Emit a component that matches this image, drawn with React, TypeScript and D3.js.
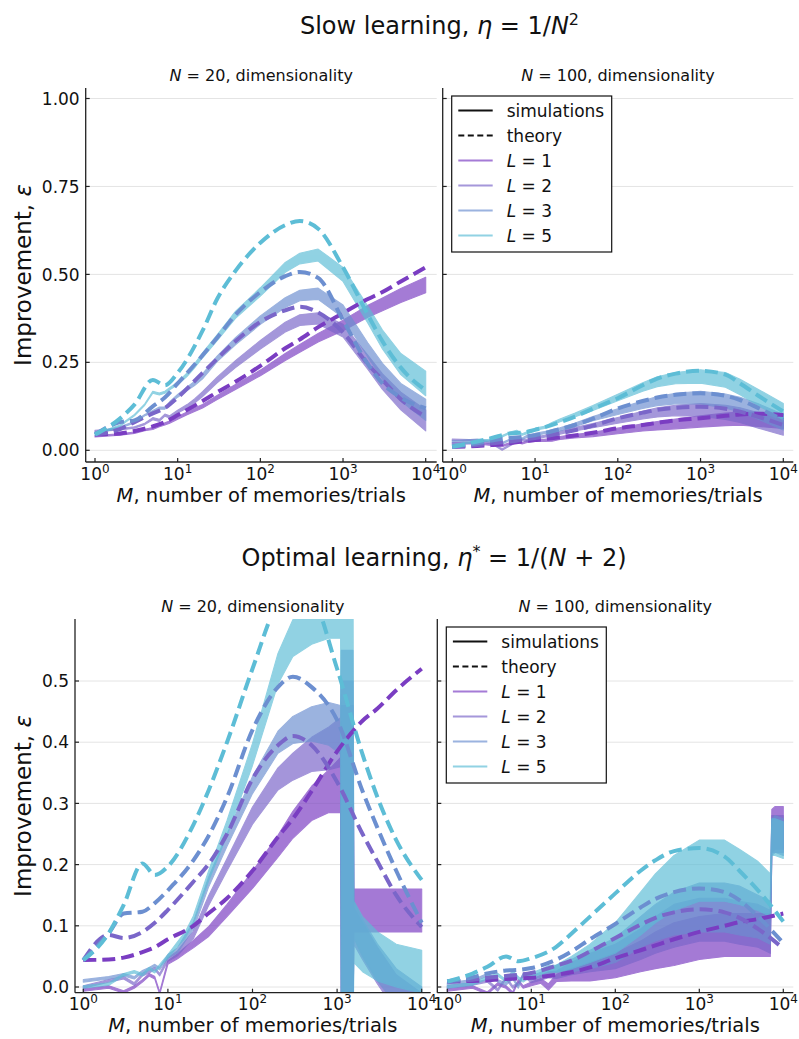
import React from "react";
import * as d3 from "d3";

const FONT = "DejaVu Sans, Verdana, sans-serif";

// ---------- shared ----------
const L_VALUES = ["1", "2", "3", "5"];
const THEORY_COLORS = ["#7a3dc2", "#7a66c9", "#6c8fd0", "#5dbdd6"];
const X_TICKS = [1, 10, 100, 1000, 10000];
const X_TICK_EXP = ["0", "1", "2", "3", "4"];
const Y_TICKS_SLOW = [0, 0.25, 0.5, 0.75, 1.0];
const Y_TICK_LABELS_SLOW = ["0.00", "0.25", "0.50", "0.75", "1.00"];
const Y_TICKS_OPT = [0, 0.1, 0.2, 0.3, 0.4, 0.5];
const Y_TICK_LABELS_OPT = ["0.0", "0.1", "0.2", "0.3", "0.4", "0.5"];

// ---------- theory ----------
const M_THEORY = [1, 2, 3, 5, 7, 10, 20, 30, 50, 100, 200, 300, 500, 1000, 2000, 3000, 5000, 10000];

// Slow learning, N = 20
const TH_SLOW20_L1 = [0.045, 0.048, 0.055, 0.068, 0.08, 0.10, 0.14, 0.165, 0.195, 0.24, 0.29, 0.315, 0.35, 0.39, 0.43, 0.45, 0.48, 0.52];
const TH_SLOW20_L2 = [0.045, 0.06, 0.08, 0.105, 0.12, 0.15, 0.22, 0.26, 0.31, 0.365, 0.398, 0.408, 0.392, 0.335, 0.245, 0.2, 0.145, 0.095];
const TH_SLOW20_L3 = [0.045, 0.08, 0.085, 0.125, 0.15, 0.19, 0.27, 0.32, 0.385, 0.45, 0.495, 0.507, 0.49, 0.37, 0.245, 0.19, 0.15, 0.119];
const TH_SLOW20_L5 = [0.045, 0.09, 0.13, 0.2, 0.185, 0.22, 0.34, 0.43, 0.51, 0.59, 0.64, 0.652, 0.63, 0.52, 0.385, 0.31, 0.235, 0.17];

// Slow learning, N = 100
const TH_SLOW100_L1 = [0.01, 0.012, 0.015, 0.02, 0.025, 0.029, 0.037, 0.042, 0.05, 0.0625, 0.072, 0.078, 0.085, 0.091, 0.098, 0.102, 0.104, 0.10];
const TH_SLOW100_L2 = [0.01, 0.015, 0.02, 0.025, 0.03, 0.035, 0.048, 0.057, 0.07, 0.091, 0.107, 0.115, 0.121, 0.124, 0.118, 0.11, 0.095, 0.072];
const TH_SLOW100_L3 = [0.01, 0.02, 0.028, 0.035, 0.038, 0.043, 0.06, 0.072, 0.09, 0.119, 0.14, 0.15, 0.158, 0.162, 0.155, 0.143, 0.12, 0.086];
const TH_SLOW100_L5 = [0.01, 0.025, 0.035, 0.048, 0.05, 0.058, 0.08, 0.095, 0.118, 0.148, 0.185, 0.204, 0.218, 0.226, 0.215, 0.19, 0.155, 0.11];

// Optimal learning, N = 20
const TH_OPT20_L1 = [0.044, 0.045, 0.048, 0.057, 0.065, 0.078, 0.10, 0.12, 0.145, 0.19, 0.245, 0.275, 0.32, 0.385, 0.435, 0.455, 0.485, 0.52];
const TH_OPT20_L2 = [0.044, 0.085, 0.08, 0.09, 0.105, 0.126, 0.172, 0.20, 0.25, 0.34, 0.395, 0.41, 0.395, 0.335, 0.25, 0.205, 0.15, 0.098];
const TH_OPT20_L3 = [0.044, 0.088, 0.12, 0.123, 0.137, 0.158, 0.207, 0.246, 0.31, 0.42, 0.49, 0.507, 0.49, 0.436, 0.32, 0.26, 0.19, 0.105];
const TH_OPT20_L5 = [0.044, 0.088, 0.134, 0.202, 0.183, 0.197, 0.265, 0.32, 0.40, 0.52, 0.63, 0.66, 0.64, 0.52, 0.38, 0.31, 0.24, 0.175];

// Optimal learning, N = 100
const TH_OPT100_L1 = [0.009, 0.01, 0.011, 0.013, 0.014, 0.015, 0.02, 0.024, 0.032, 0.047, 0.06, 0.068, 0.078, 0.09, 0.10, 0.106, 0.111, 0.12];
const TH_OPT100_L2 = [0.009, 0.012, 0.015, 0.018, 0.02, 0.023, 0.035, 0.043, 0.058, 0.08, 0.102, 0.113, 0.122, 0.127, 0.122, 0.113, 0.095, 0.063];
const TH_OPT100_L3 = [0.009, 0.016, 0.022, 0.027, 0.028, 0.031, 0.045, 0.058, 0.078, 0.103, 0.13, 0.144, 0.155, 0.161, 0.155, 0.142, 0.115, 0.072];
const TH_OPT100_L5 = [0.009, 0.022, 0.033, 0.05, 0.042, 0.047, 0.066, 0.087, 0.115, 0.153, 0.19, 0.207, 0.222, 0.227, 0.213, 0.19, 0.158, 0.107];

// ---------- simulations (mean and half-spread of the noisy band) ----------
const M_SIM_SLOW = [1, 2, 3, 4, 5, 6, 7, 8, 10, 13, 16, 20, 30, 50, 100, 200, 300, 500, 1000, 2000, 3000, 5000, 10000];

const SIM_SLOW20_L1 = [0.04, 0.045, 0.05, 0.058, 0.062, 0.07, 0.075, 0.08, 0.092, 0.105, 0.115, 0.125, 0.15, 0.18, 0.22, 0.265, 0.29, 0.32, 0.355, 0.395, 0.415, 0.44, 0.47];
const SPR_SLOW20_L1 = [0.002, 0.002, 0.002, 0.002, 0.003, 0.003, 0.003, 0.003, 0.004, 0.004, 0.005, 0.005, 0.006, 0.007, 0.008, 0.01, 0.011, 0.012, 0.015, 0.017, 0.018, 0.02, 0.022];
const SIM_SLOW20_L2 = [0.055, 0.06, 0.065, 0.075, 0.09, 0.085, 0.1, 0.095, 0.11, 0.125, 0.14, 0.16, 0.2, 0.245, 0.3, 0.35, 0.37, 0.375, 0.34, 0.25, 0.195, 0.14, 0.085];
const SPR_SLOW20_L2 = [0.002, 0.002, 0.002, 0.002, 0.003, 0.003, 0.003, 0.003, 0.004, 0.005, 0.006, 0.007, 0.008, 0.01, 0.012, 0.014, 0.015, 0.016, 0.018, 0.02, 0.022, 0.025, 0.03];
const SIM_SLOW20_L3 = [0.05, 0.065, 0.08, 0.1, 0.11, 0.12, 0.12, 0.135, 0.155, 0.175, 0.19, 0.21, 0.26, 0.31, 0.37, 0.42, 0.44, 0.445, 0.395, 0.285, 0.225, 0.165, 0.115];
const SPR_SLOW20_L3 = [0.002, 0.002, 0.002, 0.002, 0.003, 0.003, 0.003, 0.003, 0.004, 0.005, 0.006, 0.007, 0.008, 0.01, 0.012, 0.014, 0.015, 0.016, 0.018, 0.02, 0.022, 0.025, 0.03];
const SIM_SLOW20_L5 = [0.045, 0.07, 0.1, 0.13, 0.165, 0.16, 0.165, 0.175, 0.19, 0.215, 0.24, 0.27, 0.32, 0.385, 0.45, 0.52, 0.545, 0.555, 0.5, 0.385, 0.315, 0.245, 0.19];
const SPR_SLOW20_L5 = [0.002, 0.002, 0.002, 0.002, 0.003, 0.003, 0.003, 0.003, 0.004, 0.005, 0.006, 0.007, 0.008, 0.01, 0.012, 0.014, 0.015, 0.017, 0.02, 0.024, 0.027, 0.03, 0.035];

const SIM_SLOW100_L1 = [0.02, 0.02, 0.016, 0.012, 0.02, 0.024, 0.02, 0.025, 0.028, 0.028, 0.03, 0.035, 0.04, 0.045, 0.055, 0.065, 0.07, 0.075, 0.082, 0.088, 0.09, 0.088, 0.082];
const SPR_SLOW100_L1 = [0.002, 0.002, 0.002, 0.002, 0.002, 0.002, 0.002, 0.003, 0.003, 0.003, 0.004, 0.004, 0.005, 0.006, 0.008, 0.01, 0.012, 0.014, 0.016, 0.018, 0.019, 0.02, 0.02];
const SIM_SLOW100_L2 = [0.03, 0.028, 0.02, 0.002, 0.015, 0.025, 0.03, 0.028, 0.035, 0.04, 0.045, 0.05, 0.06, 0.07, 0.085, 0.1, 0.108, 0.113, 0.115, 0.108, 0.1, 0.085, 0.065];
const SPR_SLOW100_L2 = [0.002, 0.002, 0.002, 0.002, 0.002, 0.002, 0.002, 0.003, 0.003, 0.003, 0.004, 0.004, 0.005, 0.006, 0.008, 0.011, 0.013, 0.015, 0.018, 0.02, 0.021, 0.022, 0.022];
const SIM_SLOW100_L3 = [0.025, 0.03, 0.025, 0.02, 0.03, 0.035, 0.033, 0.04, 0.045, 0.05, 0.055, 0.06, 0.072, 0.09, 0.11, 0.13, 0.14, 0.147, 0.15, 0.14, 0.13, 0.11, 0.08];
const SPR_SLOW100_L3 = [0.002, 0.002, 0.002, 0.002, 0.002, 0.002, 0.002, 0.003, 0.003, 0.003, 0.004, 0.004, 0.005, 0.006, 0.008, 0.011, 0.013, 0.015, 0.018, 0.02, 0.021, 0.022, 0.022];
const SIM_SLOW100_L5 = [0.015, 0.025, 0.03, 0.04, 0.05, 0.055, 0.045, 0.05, 0.06, 0.065, 0.075, 0.085, 0.1, 0.12, 0.15, 0.18, 0.195, 0.205, 0.21, 0.2, 0.18, 0.15, 0.11];
const SPR_SLOW100_L5 = [0.002, 0.002, 0.002, 0.002, 0.002, 0.002, 0.002, 0.003, 0.003, 0.003, 0.004, 0.004, 0.005, 0.007, 0.009, 0.012, 0.014, 0.016, 0.019, 0.021, 0.022, 0.023, 0.023];

const M_SIM_OPT20 = [1, 2, 3, 4, 5, 6, 7, 8, 10, 13, 16, 20, 30, 50, 100, 200, 300, 500, 800, 1100, 1120, 1540, 1580, 2000, 3000, 5000, 10000];

const SIM_OPT20_L1 = [-0.005, 0.0, -0.008, 0.0, 0.01, 0.02, 0.015, -0.01, 0.04, 0.05, 0.06, 0.07, 0.09, 0.125, 0.175, 0.23, 0.265, 0.3, 0.32, 0.33, 0.2, 0.2, 0.125, 0.125, 0.125, 0.125, 0.125];
const SPR_OPT20_L1 = [0.002, 0.002, 0.002, 0.002, 0.002, 0.002, 0.002, 0.002, 0.003, 0.004, 0.005, 0.006, 0.008, 0.01, 0.014, 0.018, 0.022, 0.028, 0.035, 0.045, 0.26, 0.26, 0.035, 0.035, 0.035, 0.035, 0.035];
const SIM_OPT20_L2 = [0.0, 0.01, 0.015, 0.005, 0.02, 0.025, 0.03, 0.02, 0.045, 0.055, 0.07, 0.085, 0.14, 0.2, 0.28, 0.34, 0.36, 0.38, 0.39, 0.4, 0.22, 0.22, 0.1, 0.075, 0.035, -0.01, -0.04];
const SPR_OPT20_L2 = [0.002, 0.002, 0.002, 0.002, 0.002, 0.002, 0.002, 0.002, 0.003, 0.004, 0.005, 0.006, 0.008, 0.01, 0.014, 0.018, 0.022, 0.028, 0.035, 0.04, 0.28, 0.28, 0.03, 0.03, 0.03, 0.03, 0.03];
const SIM_OPT20_L3 = [0.01, 0.015, 0.02, 0.015, 0.025, 0.03, 0.035, 0.03, 0.05, 0.06, 0.08, 0.1, 0.17, 0.24, 0.33, 0.4, 0.42, 0.43, 0.43, 0.42, 0.25, 0.25, 0.11, 0.08, 0.04, 0.0, -0.03];
const SPR_OPT20_L3 = [0.002, 0.002, 0.002, 0.002, 0.002, 0.002, 0.002, 0.002, 0.003, 0.004, 0.005, 0.006, 0.008, 0.01, 0.014, 0.018, 0.022, 0.028, 0.035, 0.04, 0.3, 0.3, 0.03, 0.03, 0.03, 0.03, 0.03];
const SIM_OPT20_L5 = [0.0, 0.005, 0.02, 0.025, 0.02, 0.03, 0.025, 0.035, 0.05, 0.07, 0.085, 0.11, 0.18, 0.26, 0.38, 0.52, 0.57, 0.6, 0.62, 0.62, 0.3, 0.3, 0.09, 0.07, 0.05, 0.035, 0.025];
const SPR_OPT20_L5 = [0.002, 0.002, 0.002, 0.002, 0.002, 0.002, 0.002, 0.002, 0.003, 0.004, 0.005, 0.006, 0.008, 0.012, 0.018, 0.025, 0.03, 0.04, 0.05, 0.05, 0.4, 0.4, 0.05, 0.045, 0.04, 0.035, 0.035];

const M_SIM_OPT100 = [1, 2, 3, 4, 5, 6, 7, 8, 10, 13, 16, 20, 30, 50, 100, 200, 300, 500, 1000, 2000, 3000, 5000, 7000, 7300, 8000, 10000];

const SIM_OPT100_L1 = [-0.005, 0.0, -0.01, 0.005, 0.0, -0.01, 0.01, 0.0, 0.005, 0.01, 0.0, 0.015, 0.02, 0.025, 0.035, 0.05, 0.06, 0.07, 0.08, 0.085, 0.085, 0.085, 0.085, 0.255, 0.26, 0.26];
const SPR_OPT100_L1 = [0.002, 0.002, 0.002, 0.002, 0.002, 0.002, 0.002, 0.002, 0.003, 0.004, 0.005, 0.006, 0.01, 0.015, 0.02, 0.025, 0.03, 0.035, 0.035, 0.035, 0.035, 0.035, 0.035, 0.035, 0.035, 0.035];
const SIM_OPT100_L2 = [0.0, 0.005, 0.01, -0.005, 0.015, 0.0, 0.005, 0.02, 0.01, 0.015, 0.02, 0.02, 0.03, 0.04, 0.05, 0.07, 0.085, 0.1, 0.11, 0.11, 0.105, 0.1, 0.09, 0.25, 0.25, 0.25];
const SPR_OPT100_L2 = [0.002, 0.002, 0.002, 0.002, 0.002, 0.002, 0.002, 0.002, 0.003, 0.004, 0.005, 0.006, 0.01, 0.015, 0.02, 0.025, 0.03, 0.035, 0.035, 0.035, 0.035, 0.035, 0.035, 0.03, 0.03, 0.03];
const SIM_OPT100_L3 = [0.005, 0.01, 0.02, 0.01, 0.005, 0.015, 0.0, 0.02, 0.015, 0.02, 0.025, 0.03, 0.035, 0.045, 0.06, 0.09, 0.105, 0.12, 0.13, 0.13, 0.125, 0.115, 0.105, 0.245, 0.25, 0.245];
const SPR_OPT100_L3 = [0.002, 0.002, 0.002, 0.002, 0.002, 0.002, 0.002, 0.002, 0.003, 0.004, 0.005, 0.006, 0.01, 0.015, 0.02, 0.025, 0.03, 0.035, 0.04, 0.04, 0.04, 0.035, 0.035, 0.03, 0.03, 0.03];
const SIM_OPT100_L5 = [0.0, 0.005, 0.015, 0.02, 0.01, 0.025, 0.015, 0.01, 0.02, 0.025, 0.03, 0.03, 0.04, 0.055, 0.08, 0.12, 0.145, 0.17, 0.19, 0.19, 0.18, 0.165, 0.15, 0.245, 0.245, 0.24];
const SPR_OPT100_L5 = [0.002, 0.002, 0.002, 0.002, 0.002, 0.002, 0.002, 0.002, 0.003, 0.004, 0.005, 0.006, 0.01, 0.015, 0.025, 0.035, 0.04, 0.045, 0.05, 0.05, 0.045, 0.04, 0.035, 0.03, 0.03, 0.03];

// ---------- layout ----------
type PanelSpec = {
  key: string;
  n: string;
  frame: [number, number, number, number]; // left, top, right, bottom
  xPix: [number, number]; // pixel of M = 1 and M = 1e4
  yDom: [number, number];
  yPix: [number, number];
  yTicks: number[];
  yTickLabels: string[];
  showYLabels: boolean;
  theory: number[][];
  simM: number[];
  sim: number[][];
  spr: number[][];
  legend: boolean;
  tickBaseline: number;
  xLabelBaseline: number;
};

const PANELS: PanelSpec[] = [
  {
    key: "slow20", n: "20", frame: [85.7, 88, 436.7, 462], xPix: [95, 425.7],
    yDom: [0, 1], yPix: [450.3, 98.5], yTicks: Y_TICKS_SLOW, yTickLabels: Y_TICK_LABELS_SLOW, showYLabels: true,
    theory: [TH_SLOW20_L1, TH_SLOW20_L2, TH_SLOW20_L3, TH_SLOW20_L5],
    simM: M_SIM_SLOW, sim: [SIM_SLOW20_L1, SIM_SLOW20_L2, SIM_SLOW20_L3, SIM_SLOW20_L5],
    spr: [SPR_SLOW20_L1, SPR_SLOW20_L2, SPR_SLOW20_L3, SPR_SLOW20_L5],
    legend: false, tickBaseline: 480, xLabelBaseline: 502,
  },
  {
    key: "slow100", n: "100", frame: [442.7, 88, 793.3, 462], xPix: [452.3, 783.3],
    yDom: [0, 1], yPix: [450.3, 98.5], yTicks: Y_TICKS_SLOW, yTickLabels: Y_TICK_LABELS_SLOW, showYLabels: false,
    theory: [TH_SLOW100_L1, TH_SLOW100_L2, TH_SLOW100_L3, TH_SLOW100_L5],
    simM: M_SIM_SLOW, sim: [SIM_SLOW100_L1, SIM_SLOW100_L2, SIM_SLOW100_L3, SIM_SLOW100_L5],
    spr: [SPR_SLOW100_L1, SPR_SLOW100_L2, SPR_SLOW100_L3, SPR_SLOW100_L5],
    legend: true, tickBaseline: 480, xLabelBaseline: 502,
  },
  {
    key: "opt20", n: "20", frame: [75, 619, 430.7, 992.7], xPix: [83.3, 421.7],
    yDom: [0, 0.5], yPix: [987, 681], yTicks: Y_TICKS_OPT, yTickLabels: Y_TICK_LABELS_OPT, showYLabels: true,
    theory: [TH_OPT20_L1, TH_OPT20_L2, TH_OPT20_L3, TH_OPT20_L5],
    simM: M_SIM_OPT20, sim: [SIM_OPT20_L1, SIM_OPT20_L2, SIM_OPT20_L3, SIM_OPT20_L5],
    spr: [SPR_OPT20_L1, SPR_OPT20_L2, SPR_OPT20_L3, SPR_OPT20_L5],
    legend: false, tickBaseline: 1010, xLabelBaseline: 1032,
  },
  {
    key: "opt100", n: "100", frame: [437.3, 619, 793.3, 992.7], xPix: [447.3, 783.3],
    yDom: [0, 0.5], yPix: [987, 681], yTicks: Y_TICKS_OPT, yTickLabels: Y_TICK_LABELS_OPT, showYLabels: false,
    theory: [TH_OPT100_L1, TH_OPT100_L2, TH_OPT100_L3, TH_OPT100_L5],
    simM: M_SIM_OPT100, sim: [SIM_OPT100_L1, SIM_OPT100_L2, SIM_OPT100_L3, SIM_OPT100_L5],
    spr: [SPR_OPT100_L1, SPR_OPT100_L2, SPR_OPT100_L3, SPR_OPT100_L5],
    legend: true, tickBaseline: 1010, xLabelBaseline: 1032,
  },
];

const Panel: React.FC<{ p: PanelSpec }> = ({ p }) => {
  const [fl, ft, fr, fb] = p.frame;
  const x = d3.scaleLog().domain([1, 10000]).range(p.xPix);
  const y = d3.scaleLinear().domain(p.yDom).range(p.yPix);
  const clipId = `clip-${p.key}`;

  const theoryLine = d3
    .line<number>()
    .x((_, i) => x(M_THEORY[i]))
    .y((d) => y(d))
    .curve(d3.curveMonotoneX);

  const simArea = (mid: number[], spr: number[]) =>
    d3
      .area<number>()
      .x((_, i) => x(p.simM[i]))
      .y0((d, i) => y(d - spr[i]))
      .y1((d, i) => y(d + spr[i]))
      .curve(d3.curveLinear)(mid) || "";

  const cx = (fl + fr) / 2;

  return (
    <g>
      <defs>
        <clipPath id={clipId}>
          <rect x={fl} y={ft} width={fr - fl} height={fb - ft} />
        </clipPath>
      </defs>
      {/* grid */}
      {p.yTicks.map((t) => (
        <line key={`g${t}`} x1={fl} x2={fr} y1={y(t)} y2={y(t)} stroke="#e4e4e4" strokeWidth={1} />
      ))}
      {/* data */}
      <g clipPath={`url(#${clipId})`}>
        {p.sim.map((mid, k) => (
          <g key={`s${k}`} opacity={0.68}>
            <path
              d={simArea(mid, p.spr[k])}
              fill={THEORY_COLORS[k]}
              stroke={THEORY_COLORS[k]}
              strokeWidth={1.1}
              strokeLinejoin="round"
            />
          </g>
        ))}
        {p.theory.map((vals, k) => (
          <path
            key={`t${k}`}
            d={theoryLine(vals) || ""}
            fill="none"
            stroke={THEORY_COLORS[k]}
            strokeWidth={4}
            strokeDasharray="13,6"
          />
        ))}
      </g>
      {/* axes */}
      <line x1={fl} x2={fl} y1={ft} y2={fb} stroke="#222" strokeWidth={1.3} />
      <line x1={fl} x2={fr} y1={fb} y2={fb} stroke="#222" strokeWidth={1.3} />
      {p.yTicks.map((t, i) => (
        <g key={`yt${t}`}>
          <line x1={fl} x2={fl + 4} y1={y(t)} y2={y(t)} stroke="#222" strokeWidth={1.2} />
          {p.showYLabels && (
            <text x={fl - 6} y={y(t)} dy="0.36em" textAnchor="end" fontSize={17} fontFamily={FONT} fill="#111">
              {p.yTickLabels[i]}
            </text>
          )}
        </g>
      ))}
      {X_TICKS.map((t, i) => (
        <g key={`xt${t}`}>
          <line x1={x(t)} x2={x(t)} y1={fb} y2={fb - 4} stroke="#222" strokeWidth={1.2} />
          <text x={x(t)} y={p.tickBaseline} textAnchor="middle" fontSize={17} fontFamily={FONT} fill="#111">
            10
            <tspan fontSize={12} dy={-7}>
              {X_TICK_EXP[i]}
            </tspan>
          </text>
        </g>
      ))}
      {/* subplot title */}
      <text x={cx} y={ft - 7} textAnchor="middle" fontSize={16} fontFamily={FONT} fill="#111">
        <tspan fontStyle="italic">N</tspan>
        {` = ${p.n}, dimensionality`}
      </text>
      {/* x label */}
      <text x={cx} y={p.xLabelBaseline} textAnchor="middle" fontSize={19.5} fontFamily={FONT} fill="#111">
        <tspan fontStyle="italic">M</tspan>
        {", number of memories/trials"}
      </text>
      {/* legend */}
      {p.legend && (
        <g>
          <rect x={fl + 9} y={ft + 8} width={160} height={156} fill="white" stroke="#111" strokeWidth={1.2} />
          {["simulations", "theory"].map((lbl, i) => {
            const yy = ft + 22.5 + i * 25;
            return (
              <g key={lbl}>
                <line x1={fl + 15.6} x2={fl + 50} y1={yy} y2={yy} stroke="#111" strokeWidth={2} strokeDasharray={i === 1 ? "6,3.5" : undefined} />
                <text x={fl + 64} y={yy} dy="0.36em" fontSize={17} fontFamily={FONT} fill="#111">{lbl}</text>
              </g>
            );
          })}
          {L_VALUES.map((lv, k) => {
            const yy = ft + 72.5 + k * 25;
            return (
              <g key={lv}>
                <line x1={fl + 15.6} x2={fl + 50} y1={yy} y2={yy} stroke={THEORY_COLORS[k]} strokeOpacity={0.68} strokeWidth={2.2} />
                <text x={fl + 64} y={yy} dy="0.36em" fontSize={17} fontFamily={FONT} fill="#111">
                  <tspan fontStyle="italic">L</tspan>
                  {` = ${lv}`}
                </text>
              </g>
            );
          })}
        </g>
      )}
    </g>
  );
};

export default function App() {
  return (
    <svg width={799} height={1039} style={{ display: "block", position: "absolute", left: 0, top: 0 }} fontFamily={FONT}>
      <rect x={0} y={0} width={799} height={1039} fill="white" />
      <text x={439.5} y={34.3} textAnchor="middle" fontSize={24} fill="#111">
        {"Slow learning, "}
        <tspan fontStyle="italic">η</tspan>
        {" = 1/"}
        <tspan fontStyle="italic">N</tspan>
        <tspan fontSize={16} dy={-9}>2</tspan>
      </text>
      <text x={434} y={565.7} textAnchor="middle" fontSize={24} fill="#111">
        {"Optimal learning, "}
        <tspan fontStyle="italic">η</tspan>
        <tspan fontSize={16} dy={-9}>*</tspan>
        <tspan dy={9}>{" = 1/("}</tspan>
        <tspan fontStyle="italic">N</tspan>
        {" + 2)"}
      </text>
      <text transform="translate(31,275) rotate(-90)" textAnchor="middle" fontSize={23} fill="#111">
        {"Improvement, "}
        <tspan fontStyle="italic">ε</tspan>
      </text>
      <text transform="translate(31,806) rotate(-90)" textAnchor="middle" fontSize={23} fill="#111">
        {"Improvement, "}
        <tspan fontStyle="italic">ε</tspan>
      </text>
      {PANELS.map((p) => (
        <Panel key={p.key} p={p} />
      ))}
    </svg>
  );
}
